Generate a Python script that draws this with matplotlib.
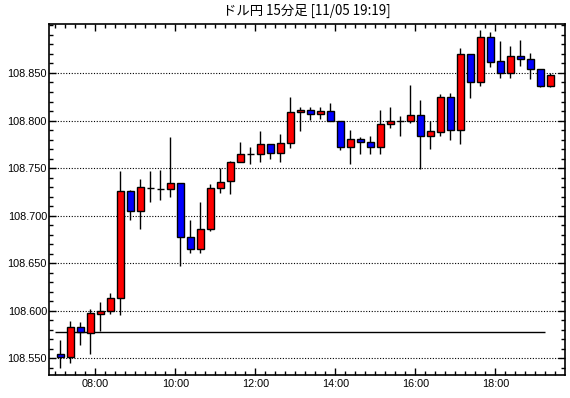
import matplotlib
matplotlib.use("Agg")
import matplotlib.pyplot as plt
from matplotlib.ticker import MultipleLocator, FuncFormatter, FixedLocator
import numpy as np

# ---- data (15-minute candles, 07:00 .. 19:15) ----
start_hour = 7.0
bar_hours = 0.25
opens = [108.554, 108.551, 108.5825, 108.577, 108.597, 108.600, 108.613, 108.7256, 108.705, 108.7295,
         108.728, 108.728, 108.734, 108.678, 108.665, 108.686, 108.729, 108.736, 108.756, 108.765,
         108.765, 108.775, 108.766, 108.776, 108.809, 108.811, 108.8065, 108.810, 108.800, 108.772,
         108.781, 108.777, 108.772, 108.796, 108.800, 108.800, 108.806, 108.784, 108.788, 108.825,
         108.790, 108.870, 108.8405, 108.888, 108.8627, 108.850, 108.868, 108.865, 108.854, 108.836]
closes = [108.551, 108.5825, 108.578, 108.598, 108.600, 108.613, 108.7256, 108.705, 108.730, 108.7295,
          108.728, 108.734, 108.678, 108.665, 108.686, 108.729, 108.735, 108.756, 108.765, 108.765,
          108.775, 108.766, 108.776, 108.809, 108.811, 108.8065, 108.810, 108.800, 108.772, 108.781,
          108.777, 108.772, 108.796, 108.7995, 108.800, 108.806, 108.784, 108.789, 108.825, 108.790,
          108.870, 108.8405, 108.888, 108.862, 108.850, 108.868, 108.865, 108.854, 108.836, 108.848]
highs = [108.569, 108.589, 108.5878, 108.6017, 108.609, 108.6185, 108.747, 108.727, 108.7387, 108.747,
         108.748, 108.783, 108.734, 108.695, 108.7145, 108.7334, 108.750, 108.7576, 108.7777, 108.7724,
         108.7892, 108.7752, 108.7861, 108.825, 108.8142, 108.8142, 108.8142, 108.8188, 108.800, 108.7903,
         108.7829, 108.784, 108.8107, 108.8145, 108.8047, 108.8377, 108.8219, 108.800, 108.8283, 108.8293,
         108.8767, 108.870, 108.8947, 108.8933, 108.8841, 108.8788, 108.8852, 108.8715, 108.8543, 108.8497]
lows = [108.5395, 108.5448, 108.564, 108.5545, 108.5787, 108.5965, 108.5955, 108.6951, 108.686, 108.7148,
        108.716, 108.720, 108.6472, 108.6608, 108.6608, 108.684, 108.7242, 108.7232, 108.7562, 108.7538,
        108.7569, 108.7594, 108.7559, 108.771, 108.7892, 108.8008, 108.8019, 108.799, 108.7692, 108.7545,
        108.765, 108.765, 108.765, 108.7917, 108.7833, 108.797, 108.7485, 108.7696, 108.7833, 108.779,
        108.7748, 108.824, 108.836, 108.8564, 108.8444, 108.8444, 108.8574, 108.8434, 108.835, 108.835]
price_labels = [108.550, 108.600, 108.650, 108.700, 108.750, 108.800, 108.850]
ref_level = 108.5773
ref_start, ref_end = 7.0, 19.25
title = "ドル円 15分足 [11/05 19:19]"

# ---- figure ----
fig = plt.figure(figsize=(5.70, 3.98), dpi=100)
fig.patch.set_facecolor("white")
ax = fig.add_axes([49/570, 1-375/398, (565-49)/570, (375-24)/398])

n = len(opens)
x = start_hour + bar_hours * (np.arange(n) + 0.5)
o = np.array(opens); c = np.array(closes); h = np.array(highs); l = np.array(lows)

ax.vlines(x, l, h, color="black", linewidth=1.0, zorder=3)
colors = []
for oo, cc in zip(o, c):
    if cc > oo:
        colors.append("#ff0000")
    elif cc < oo:
        colors.append("#0000ff")
    else:
        colors.append("black")
ax.bar(x, c - o, bottom=o, width=0.165, color=colors, edgecolor="black",
       linewidth=1.0, zorder=4)

ax.hlines(ref_level, ref_start, ref_end, color="black", linewidth=1.0, zorder=2)

ax.set_xlim(6.8425, 19.7425)
ax.set_ylim(108.5324, 108.9015)

ax.yaxis.set_major_locator(FixedLocator(price_labels))
ax.yaxis.set_minor_locator(MultipleLocator(0.01))
ax.yaxis.set_major_formatter(FuncFormatter(lambda v, p: f"{v:.3f}"))
ax.xaxis.set_major_locator(MultipleLocator(2))
ax.xaxis.set_minor_locator(MultipleLocator(0.25))
ax.xaxis.set_major_formatter(FuncFormatter(lambda v, p: f"{int(round(v)):02d}:00"))

ax.grid(axis="y", which="major", color="black", linestyle=(0, (1, 1.5)), linewidth=0.8, zorder=1)
ax.set_axisbelow(True)

ax.tick_params(which="both", direction="in", top=True, right=True, colors="black",
               labelsize=7.8, width=1.0)
ax.tick_params(which="major", length=5)
ax.tick_params(which="minor", length=3)
ax.tick_params(axis="y", pad=1.5)
ax.tick_params(axis="x", pad=3)
for lab in ax.get_xticklabels() + ax.get_yticklabels():
    lab.set_family("Liberation Sans")
for sp in ax.spines.values():
    sp.set_linewidth(1.2)
    sp.set_color("black")

fig.text(307/570, 1-11/398, title, ha="center", va="center", fontsize=9.6,
         family=["Noto Sans CJK JP", "DejaVu Sans"])

fig.savefig("out.png", dpi=100, facecolor="white")
